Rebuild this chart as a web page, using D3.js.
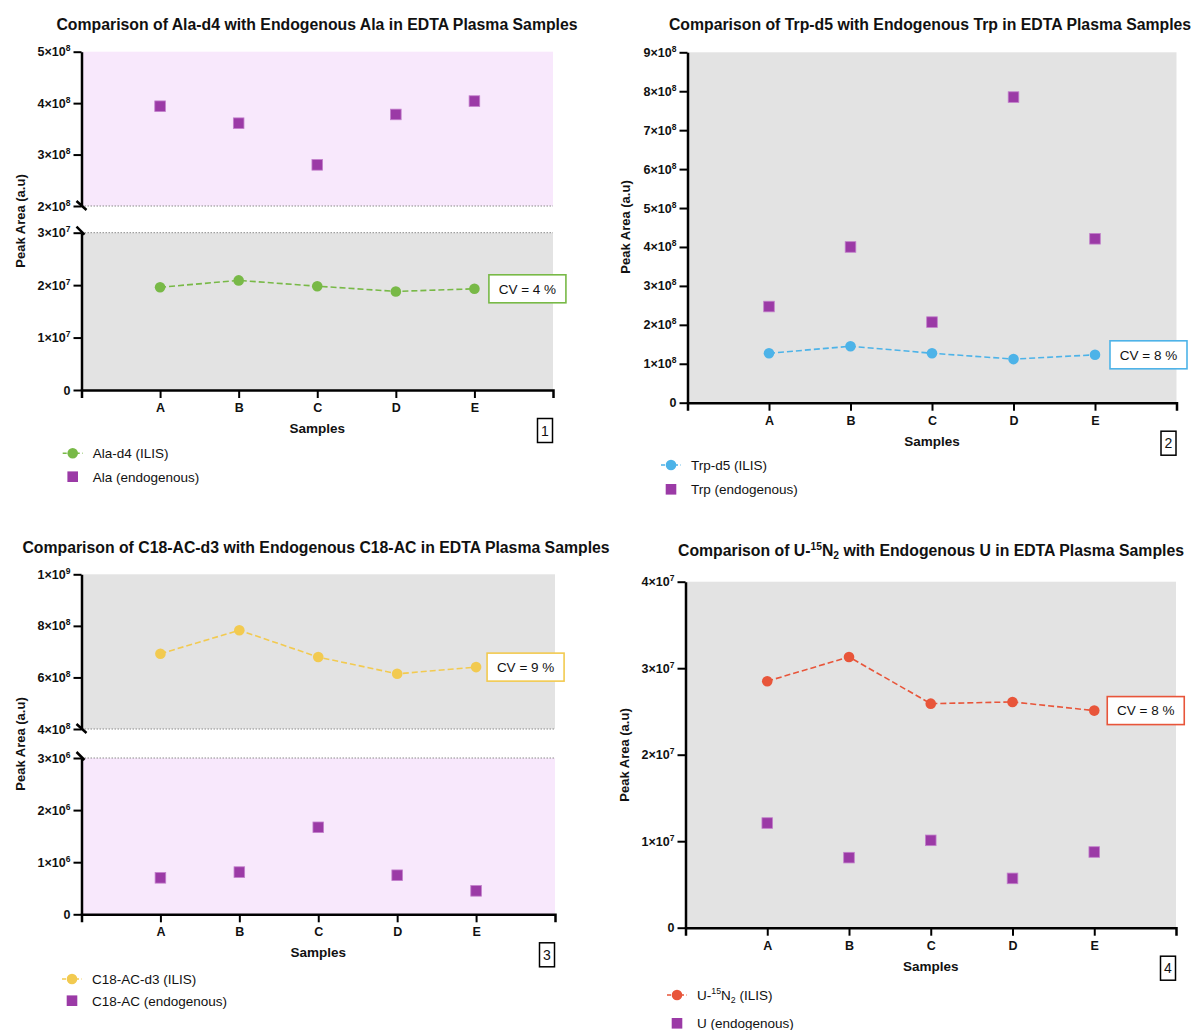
<!DOCTYPE html>
<html>
<head>
<meta charset="utf-8">
<script src="https://cdn.jsdelivr.net/npm/d3@7"></script>
<style>
  body { margin: 0; background: #fff; }
  svg { display: block; font-family: Arial, "Liberation Sans", Helvetica, sans-serif; }
</style>
</head>
<body>
<div id="chart"></div>
<script>
// Data
const samples = ['A', 'B', 'C', 'D', 'E'];

const alaIlis = [1.96e7, 2.09e7, 1.98e7, 1.88e7, 1.93e7];
const alaEndo = [3.94e8, 3.61e8, 2.80e8, 3.78e8, 4.04e8];
const trpIlis = [1.27e8, 1.45e8, 1.27e8, 1.12e8, 1.23e8];
const trpEndo = [2.47e8, 4.00e8, 2.07e8, 7.85e8, 4.21e8];
const c18Ilis = [6.92e8, 7.83e8, 6.79e8, 6.14e8, 6.40e8];
const c18Endo = [0.70e6, 0.81e6, 1.67e6, 0.75e6, 0.45e6];
const uIlis = [2.85e7, 3.13e7, 2.59e7, 2.61e7, 2.51e7];
const uEndo = [1.21e7, 0.81e7, 1.01e7, 0.57e7, 0.875e7];

const alaTopTicks = [2e8, 3e8, 4e8, 5e8];
const alaBottomTicks = [0, 1e7, 2e7, 3e7];
const trpTicks = [0, 1e8, 2e8, 3e8, 4e8, 5e8, 6e8, 7e8, 8e8, 9e8];
const c18TopTicks = [4e8, 6e8, 8e8, 1e9];
const c18BottomTicks = [0, 1e6, 2e6, 3e6];
const uTicks = [0, 1e7, 2e7, 3e7, 4e7];

const cvLabels = ['CV = 4 %', 'CV = 8 %', 'CV = 9 %', 'CV = 8 %'];

const purple = '#9b3aa6';
const pink = '#f8e8fc';
const grey = '#e3e3e3';

const svg = d3.select('#chart')
  .append('svg')
  .attr('width', 1204)
  .attr('height', 1030);

// "5×10⁸" style tick labels
function sciLabel(sel, v) {
  sel.text(null);
  if (v === 0) { sel.text('0'); return; }
  const exp = Math.floor(Math.log10(v) + 1e-9);
  const mant = Math.round(v / 10 ** exp);
  sel.append('tspan').text(`${mant}×10`);
  sel.append('tspan').attr('font-size', 8.5).attr('dy', -5).text(exp);
}

function drawPanel(cfg) {
  const g = svg.append('g');
  const x = d3.scalePoint().domain(samples).range([cfg.left, cfg.right]).padding(1);
  const segs = cfg.segments.map((s) => ({ ...s, y: d3.scaleLinear().domain(s.domain).range(s.range) }));
  const bottom = segs[segs.length - 1].range[0];

  // Title
  const title = g.append('text')
    .attr('x', cfg.titleX)
    .attr('y', cfg.titleY)
    .attr('text-anchor', 'middle')
    .attr('font-size', 15.8)
    .attr('font-weight', 'bold')
    .attr('fill', '#111');
  cfg.title(title);

  // Plot backgrounds
  segs.forEach((s) => {
    g.append('rect')
      .attr('x', cfg.left)
      .attr('y', s.range[1])
      .attr('width', cfg.right - cfg.left)
      .attr('height', s.range[0] - s.range[1])
      .attr('fill', s.bg);
  });

  // Axis break: dotted bounds and slashes
  if (segs.length > 1) {
    const yb = segs[0].range[0];
    const yt = segs[1].range[1];
    [yb, yt].forEach((yy) => {
      g.append('line')
        .attr('x1', cfg.left).attr('x2', cfg.right)
        .attr('y1', yy).attr('y2', yy)
        .attr('stroke', '#8a8a8a')
        .attr('stroke-width', 1)
        .attr('stroke-dasharray', '1.5,1.5');
    });
    g.append('line')
      .attr('x1', cfg.left - 5).attr('y1', yb - 5)
      .attr('x2', cfg.left + 5).attr('y2', yb + 4)
      .attr('stroke', '#000').attr('stroke-width', 2.5);
    g.append('line')
      .attr('x1', cfg.left - 5).attr('y1', yt - 6)
      .attr('x2', cfg.left + 3).attr('y2', yt + 2)
      .attr('stroke', '#000').attr('stroke-width', 2.5);
  }

  // Y axes
  segs.forEach((s) => {
    const ax = g.append('g')
      .attr('transform', `translate(${cfg.left},0)`)
      .call(d3.axisLeft(s.y).tickValues(s.ticks).tickSize(8).tickSizeOuter(0).tickPadding(3));
    ax.attr('font-family', null).attr('font-size', null);
    ax.select('.domain').attr('stroke-width', 2.5);
    ax.selectAll('.tick line').attr('stroke-width', 2);
    ax.selectAll('.tick text')
      .attr('font-size', 12.5)
      .attr('font-weight', 'bold')
      .attr('fill', '#111')
      .each(function (d) { sciLabel(d3.select(this), d); });
  });

  // X axis
  const xa = g.append('g')
    .attr('transform', `translate(0,${bottom})`)
    .call(d3.axisBottom(x).tickSize(8).tickSizeOuter(8).tickPadding(5));
  xa.attr('font-family', null).attr('font-size', null);
  xa.select('.domain').attr('stroke-width', 2.5);
  xa.selectAll('.tick line').attr('stroke-width', 2);
  xa.selectAll('.tick text')
    .attr('font-size', 12.5)
    .attr('font-weight', 'bold')
    .attr('fill', '#111');

  g.append('text')
    .attr('x', (cfg.left + cfg.right) / 2)
    .attr('y', bottom + 43)
    .attr('text-anchor', 'middle')
    .attr('font-size', 13.5)
    .attr('font-weight', 'bold')
    .attr('fill', '#111')
    .text('Samples');

  // Y axis title
  g.append('text')
    .attr('transform', `translate(${cfg.yTitleX},${cfg.yTitleY}) rotate(-90)`)
    .attr('text-anchor', 'middle')
    .attr('font-size', 13)
    .attr('font-weight', 'bold')
    .attr('fill', '#111')
    .text('Peak Area (a.u)');

  // Panel number box
  g.append('rect')
    .attr('x', cfg.right - 15.5)
    .attr('y', bottom + 28.5)
    .attr('width', 15)
    .attr('height', 24)
    .attr('fill', 'none')
    .attr('stroke', '#000')
    .attr('stroke-width', 1.5);
  g.append('text')
    .attr('x', cfg.right - 8)
    .attr('y', bottom + 45.5)
    .attr('text-anchor', 'middle')
    .attr('font-size', 14)
    .attr('fill', '#111')
    .text(cfg.num);

  // Series
  const ilis = cfg.ilis;
  const ys = segs[ilis.seg].y;
  const line = d3.line().x((d, i) => x(samples[i])).y((d) => ys(d));
  g.append('path')
    .datum(ilis.values)
    .attr('d', line)
    .attr('fill', 'none')
    .attr('stroke', ilis.color)
    .attr('stroke-width', 1.6)
    .attr('stroke-dasharray', '6,3');
  g.selectAll('.pt')
    .data(ilis.values).enter()
    .append('circle')
    .attr('cx', (d, i) => x(samples[i]))
    .attr('cy', (d) => ys(d))
    .attr('r', 5.3)
    .attr('fill', ilis.color);

  const endo = cfg.endo;
  const ye = segs[endo.seg].y;
  g.selectAll('.sq')
    .data(endo.values).enter()
    .append('rect')
    .attr('x', (d, i) => x(samples[i]) - 5.3)
    .attr('y', (d) => ye(d) - 5.3)
    .attr('width', 10.6)
    .attr('height', 10.6)
    .attr('fill', purple)
    .attr('stroke', '#c27fcb')
    .attr('stroke-width', 0.8);

  // CV box next to the last ILIS point
  const lastX = x(samples[4]);
  const lastY = ys(ilis.values[4]);
  g.append('rect')
    .attr('x', lastX + cfg.cvGap)
    .attr('y', lastY - 14)
    .attr('width', 77)
    .attr('height', 28)
    .attr('fill', '#fff')
    .attr('stroke', ilis.color)
    .attr('stroke-width', 1.6);
  g.append('text')
    .attr('x', lastX + cfg.cvGap + 38.5)
    .attr('y', lastY + 4.8)
    .attr('text-anchor', 'middle')
    .attr('font-size', 13.5)
    .attr('fill', '#111')
    .text(cfg.cv);

  // Legend
  const lg = g.append('g').attr('transform', `translate(${cfg.legendX},0)`);
  const [r1, r2] = cfg.legendY;
  lg.append('line')
    .attr('x1', -10).attr('x2', 10)
    .attr('y1', r1).attr('y2', r1)
    .attr('stroke', ilis.color)
    .attr('stroke-width', 1.6)
    .attr('stroke-dasharray', '4,2.5');
  lg.append('circle').attr('cx', 0).attr('cy', r1).attr('r', 5.3).attr('fill', ilis.color);
  const t1 = lg.append('text')
    .attr('x', 20).attr('y', r1 + 4.8)
    .attr('font-size', 13.5).attr('fill', '#111');
  ilis.label(t1);
  lg.append('rect')
    .attr('x', -5.3).attr('y', r2 - 5.3)
    .attr('width', 10.6).attr('height', 10.6)
    .attr('fill', purple);
  lg.append('text')
    .attr('x', 20).attr('y', r2 + 4.8)
    .attr('font-size', 13.5).attr('fill', '#111')
    .text(endo.label);
}

const plain = (s) => (t) => t.text(s);

// Panel 1
drawPanel({
  left: 81.5, right: 553, titleX: 317, titleY: 30, yTitleX: 25, yTitleY: 221,
  title: plain('Comparison of Ala-d4 with Endogenous Ala in EDTA Plasma Samples'),
  segments: [
    { domain: [2e8, 5e8], range: [206, 51.7], ticks: alaTopTicks, bg: pink },
    { domain: [0, 3e7], range: [390, 232.7], ticks: alaBottomTicks, bg: grey },
  ],
  ilis: { values: alaIlis, seg: 1, color: '#78b947', label: plain('Ala-d4 (ILIS)') },
  endo: { values: alaEndo, seg: 0, label: 'Ala (endogenous)' },
  cv: cvLabels[0], cvGap: 14.5, num: '1', legendX: 72.7, legendY: [453.3, 476.7],
});

// Panel 2
drawPanel({
  left: 687.5, right: 1176.5, titleX: 930, titleY: 30, yTitleX: 630, yTitleY: 227,
  title: plain('Comparison of Trp-d5 with Endogenous Trp in EDTA Plasma Samples'),
  segments: [
    { domain: [0, 9e8], range: [402.7, 52.3], ticks: trpTicks, bg: grey },
  ],
  ilis: { values: trpIlis, seg: 0, color: '#4db3e8', label: plain('Trp-d5 (ILIS)') },
  endo: { values: trpEndo, seg: 0, label: 'Trp (endogenous)' },
  cv: cvLabels[1], cvGap: 15, num: '2', legendX: 671, legendY: [465, 489.3],
});

// Panel 3
drawPanel({
  left: 81.5, right: 555, titleX: 316, titleY: 553, yTitleX: 25, yTitleY: 744,
  title: plain('Comparison of C18-AC-d3 with Endogenous C18-AC in EDTA Plasma Samples'),
  segments: [
    { domain: [4e8, 1e9], range: [729, 574.3], ticks: c18TopTicks, bg: grey },
    { domain: [0, 3e6], range: [914.3, 758], ticks: c18BottomTicks, bg: pink },
  ],
  ilis: { values: c18Ilis, seg: 0, color: '#f2ca50', label: plain('C18-AC-d3 (ILIS)') },
  endo: { values: c18Endo, seg: 1, label: 'C18-AC (endogenous)' },
  cv: cvLabels[2], cvGap: 11, num: '3', legendX: 72, legendY: [979, 1000.7],
});

// Panel 4 (U-15N2 with super/subscripts)
const u15n2 = (rest) => (t) => {
  t.append('tspan').text(t.attr('font-weight') === 'bold' ? 'Comparison of U-' : 'U-');
  t.append('tspan').attr('font-size', '0.65em').attr('dy', -6).text('15');
  t.append('tspan').attr('dy', 6).text('N');
  t.append('tspan').attr('font-size', '0.65em').attr('dy', 3).text('2');
  t.append('tspan').attr('dy', -3).text(rest);
};
drawPanel({
  left: 685.5, right: 1176, titleX: 931, titleY: 556, yTitleX: 629, yTitleY: 755,
  title: u15n2(' with Endogenous U in EDTA Plasma Samples'),
  segments: [
    { domain: [0, 4e7], range: [927.7, 581.7], ticks: uTicks, bg: grey },
  ],
  ilis: { values: uIlis, seg: 0, color: '#e8553a', label: u15n2(' (ILIS)') },
  endo: { values: uEndo, seg: 0, label: 'U (endogenous)' },
  cv: cvLabels[3], cvGap: 13, num: '4', legendX: 677, legendY: [995, 1023.3],
});
</script>
</body>
</html>
